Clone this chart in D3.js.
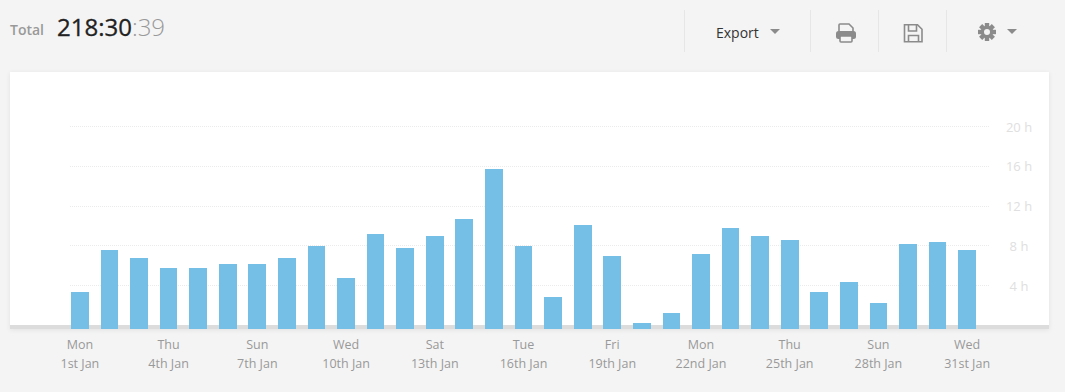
<!DOCTYPE html>
<html>
<head>
<meta charset="utf-8">
<script src="https://cdnjs.cloudflare.com/ajax/libs/d3/7.8.5/d3.min.js"></script>
<style>
  html, body { margin: 0; padding: 0; background: #f4f4f4; overflow: hidden; }
  #card {
    position: absolute; left: 10px; top: 72px; width: 1039px; height: 257px;
    background: #fff; box-shadow: 0 1px 5px rgba(0, 0, 0, 0.08);
  }
  #chart { position: absolute; left: 0; top: 0; }
  text { font-family: "Open Sans", sans-serif; }
</style>
</head>
<body>
<div id="card"></div>
<svg id="chart" width="1065" height="392"></svg>
<script>
const weekdays = ["Mon","Tue","Wed","Thu","Fri","Sat","Sun","Mon","Tue","Wed","Thu","Fri","Sat","Sun","Mon","Tue","Wed","Thu","Fri","Sat","Sun","Mon","Tue","Wed","Thu","Fri","Sat","Sun","Mon","Tue","Wed"];
const dates = ["1st Jan","2nd Jan","3rd Jan","4th Jan","5th Jan","6th Jan","7th Jan","8th Jan","9th Jan","10th Jan","11th Jan","12th Jan","13th Jan","14th Jan","15th Jan","16th Jan","17th Jan","18th Jan","19th Jan","20th Jan","21st Jan","22nd Jan","23rd Jan","24th Jan","25th Jan","26th Jan","27th Jan","28th Jan","29th Jan","30th Jan","31st Jan"];
const hours = [3.37,7.59,6.78,5.78,5.78,6.18,6.18,6.78,7.99,4.77,9.2,7.79,8.99,10.7,15.73,7.99,2.86,10.1,6.98,0.25,1.26,7.19,9.8,8.99,8.59,3.37,4.37,2.26,8.19,8.39,7.59];
const hourTicks = [4, 8, 12, 16, 20];
const dateTicks = ["1st Jan","4th Jan","7th Jan","10th Jan","13th Jan","16th Jan","19th Jan","22nd Jan","25th Jan","28th Jan","31st Jan"];

const svg = d3.select("#chart");

const barBottom = 329;

const x = d3.scaleBand()
  .domain(dates)
  .range([71, 976])
  .paddingInner(0.4)
  .paddingOuter(0);

const y = d3.scaleLinear()
  .domain([0, 20])
  .range([325.5, 126.5]);

// grey floor of the card
svg.append("rect")
  .attr("x", 10)
  .attr("y", 325)
  .attr("width", 1039)
  .attr("height", 4)
  .attr("fill", "#dcdcdc");

// dotted grid
svg.append("g")
  .selectAll("line")
  .data(hourTicks)
  .enter()
  .append("line")
  .attr("x1", 70)
  .attr("x2", 989)
  .attr("y1", d => Math.floor(y(d)) + 0.5)
  .attr("y2", d => Math.floor(y(d)) + 0.5)
  .attr("stroke", "#ebebeb")
  .attr("stroke-dasharray", "1 1");

svg.append("g")
  .selectAll("rect")
  .data(hours)
  .enter()
  .append("rect")
  .attr("x", (d, i) => Math.round(x(dates[i])))
  .attr("y", d => Math.round(y(d)))
  .attr("width", (d, i) => Math.round(x(dates[i]) + x.bandwidth()) - Math.round(x(dates[i])))
  .attr("height", d => barBottom - Math.round(y(d)))
  .attr("fill", "#75bee6");

// hour labels
const yAxis = svg.append("g")
  .attr("transform", "translate(1019,0.5)")
  .call(d3.axisRight(y).tickValues(hourTicks).tickSize(0).tickPadding(0).tickFormat(d => d + " h"));
yAxis.select(".domain").remove();
yAxis.selectAll("text")
  .attr("text-anchor", "middle")
  .attr("font-family", "Open Sans")
  .attr("font-size", "13px")
  .attr("fill", "#e0e0e0");

// date labels, two lines
const xAxis = svg.append("g")
  .attr("transform", "translate(0,329)")
  .call(d3.axisBottom(x).tickValues(dateTicks).tickSize(0).tickFormat(""));
xAxis.select(".domain").remove();
xAxis.selectAll(".tick text").remove();
xAxis.selectAll(".tick").each(function(d) {
  const t = d3.select(this).append("text")
    .attr("text-anchor", "middle")
    .attr("font-size", "12.5px")
    .attr("fill", "#999");
  t.append("tspan").attr("x", 0).attr("y", 20).text(weekdays[dates.indexOf(d)]);
  t.append("tspan").attr("x", 0).attr("y", 39).text(d);
});

// header
svg.append("text")
  .attr("x", 10)
  .attr("y", 35)
  .attr("font-size", "14px")
  .attr("font-weight", 600)
  .attr("fill", "#999")
  .text("Total");

const total = svg.append("text")
  .attr("x", 57)
  .attr("y", 36)
  .attr("font-size", "24px");
total.append("tspan")
  .attr("font-weight", 500)
  .attr("fill", "#222")
  .attr("stroke", "#222")
  .attr("stroke-width", 0.3)
  .text("218:30");
total.append("tspan").attr("font-weight", 300).attr("fill", "#999").text(":39");

svg.append("text")
  .attr("x", 716)
  .attr("y", 38)
  .attr("font-size", "14px")
  .attr("fill", "#333")
  .text("Export");

svg.selectAll(".sep")
  .data([684, 810, 878, 946])
  .enter()
  .append("line")
  .attr("class", "sep")
  .attr("x1", d => d + 0.5)
  .attr("x2", d => d + 0.5)
  .attr("y1", 10)
  .attr("y2", 52)
  .attr("stroke", "#e6e6e6");

const iconGrey = "#8b8b8b";

svg.selectAll(".caret")
  .data([770, 1007])
  .enter()
  .append("path")
  .attr("class", "caret")
  .attr("d", d => `M${d},29h10l-5,5z`)
  .attr("fill", iconGrey);

// printer
const printer = svg.append("g").attr("fill", "none").attr("stroke", iconGrey);
printer.append("path")
  .attr("d", "M839,31v-6a1,1 0 0 1 1,-1h9l4,4v3")
  .attr("stroke-width", 1.6);
printer.append("rect")
  .attr("x", 836).attr("y", 31).attr("width", 20).attr("height", 8).attr("rx", 2.5)
  .attr("fill", iconGrey).attr("stroke", "none");
printer.append("rect")
  .attr("x", 840).attr("y", 36).attr("width", 12).attr("height", 6).attr("rx", 1)
  .attr("fill", "#f4f4f4").attr("stroke-width", 1.6);

// floppy
const floppy = svg.append("g").attr("fill", "none").attr("stroke", iconGrey).attr("stroke-width", 1.6);
floppy.append("path").attr("d", "M904.5,24.8h13l4.5,4.5v12.5h-17.5z");
floppy.append("path").attr("d", "M908.5,25v6h8v-6");
floppy.append("path").attr("d", "M908.5,41.5v-6h10v6");

// gear
const gear = svg.append("g").attr("transform", "translate(987,32)");
gear.selectAll("rect")
  .data(d3.range(8))
  .enter()
  .append("rect")
  .attr("x", -2.2)
  .attr("y", -9)
  .attr("width", 4.4)
  .attr("height", 5)
  .attr("fill", iconGrey)
  .attr("transform", d => `rotate(${d * 45})`);
gear.append("circle").attr("r", 4.6).attr("fill", "none").attr("stroke", iconGrey).attr("stroke-width", 3.2);
</script>
</body>
</html>
